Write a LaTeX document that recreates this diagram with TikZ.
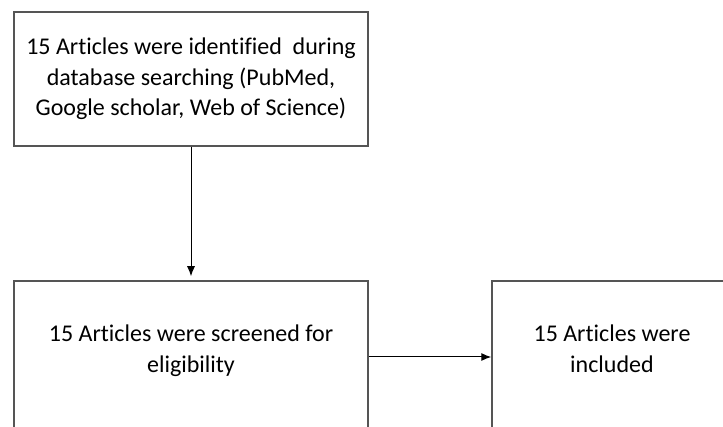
\documentclass[tikz,border=0pt]{standalone}
\usepackage{fontspec}
\setmainfont[Ligatures=NoCommon]{Carlito}
\usepackage{tikz}
\usetikzlibrary{positioning, arrows.meta, calc}
\definecolor{cB}{RGB}{85,85,85}

\begin{document}
\begin{tikzpicture}[x=1pt, y=-1pt, >={Latex[length=10pt,width=8pt]},
    font=\fontsize{24}{30.5}\selectfont,
    flowbox/.style={draw=cB, line width=1.5pt, rectangle, align=center, inner sep=0pt},
    flowarrow/.style={->, line width=1pt, black}]

    \clip (0,0) rectangle (723,427);

    % Boxes of the flow chart
    \node [flowbox, minimum width=354pt, minimum height=134pt] (found) at (191,79)
        {15 Articles were identified~ during\\database searching (PubMed,\\Google scholar, Web of Science)};
    \node [flowbox, minimum width=354pt, minimum height=152pt] (screen) at (191,357)
        {15 Articles were screened for\\eligibility\\[-14pt]};
    \node [flowbox, minimum width=240pt, minimum height=152pt] (incl) at (612,357)
        {15 Articles were\\included\\[-14pt]};

    % Connectors
    \draw [flowarrow, shorten >=4pt] (found.south) -- (screen.north);
    \draw [flowarrow] (screen.east) -- (incl.west);
\end{tikzpicture}
\end{document}
